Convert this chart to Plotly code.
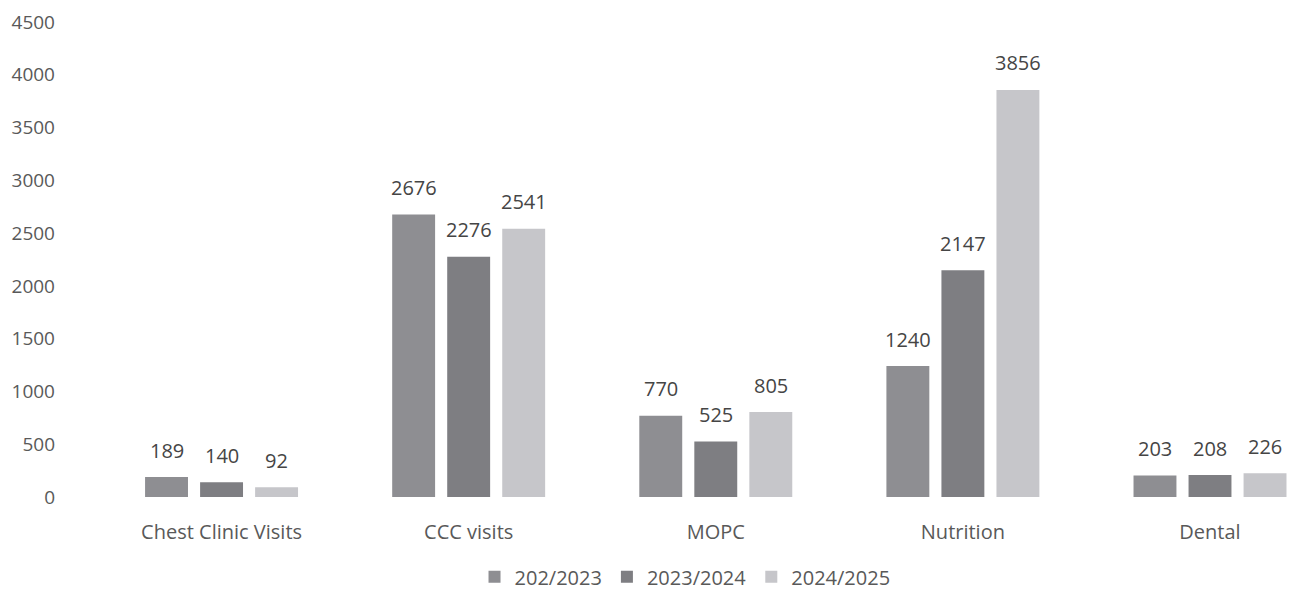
import plotly.graph_objects as go

categories = ["Chest Clinic Visits", "CCC visits", "MOPC", "Nutrition", "Dental"]
series_names = ["202/2023", "2023/2024", "2024/2025"]
vals_2022 = [189, 2676, 770, 1240, 203]
vals_2023 = [140, 2276, 525, 2147, 208]
vals_2024 = [92, 2541, 805, 3856, 226]
y_ticks = [0, 500, 1000, 1500, 2000, 2500, 3000, 3500, 4000, 4500]

colors = ["#8e8e92", "#7e7e82", "#c6c6ca"]
font_family = "'Open Sans', sans-serif"

fig = go.Figure()
all_vals = [vals_2022, vals_2023, vals_2024]
for name, vals, col in zip(series_names, all_vals, colors):
    fig.add_trace(go.Bar(
        x=categories, y=vals, name=name,
        marker=dict(color=col, line=dict(width=0)),
    ))

offsets = [-55, 0, 55]
for vals, dx in zip(all_vals, offsets):
    for c, v in zip(categories, vals):
        fig.add_annotation(x=c, y=v, xref="x", yref="y", text=str(v), showarrow=False,
                           xshift=dx, yshift=27, yanchor="middle",
                           font=dict(size=20, color="#454545", family=font_family))

fig.update_layout(
    width=1296, height=591,
    margin=dict(l=98, r=0, t=22, b=94, autoexpand=False),
    paper_bgcolor="white", plot_bgcolor="white",
    barmode="group", bargap=0.332, bargroupgap=0.22,
    font=dict(family=font_family, size=19, color="#595959"),
    showlegend=True,
    legend=dict(orientation="h", x=0.49, xanchor="center", yref="container", y=0.024,
                yanchor="middle", font=dict(size=20, color="#595959"), itemwidth=30,
                traceorder="normal"),
)
fig.update_xaxes(
    range=[-0.5, 4.348], showgrid=False, showline=False, zeroline=False,
    ticks="", tickfont=dict(size=20, color="#595959"), ticklabelstandoff=21,
)
fig.update_yaxes(
    range=[0, 4500], tickvals=y_ticks, showgrid=False, showline=False, zeroline=False,
    ticks="", tickfont=dict(size=19, color="#595959"), ticklabelstandoff=42,
)

fig.write_html("out.html")
